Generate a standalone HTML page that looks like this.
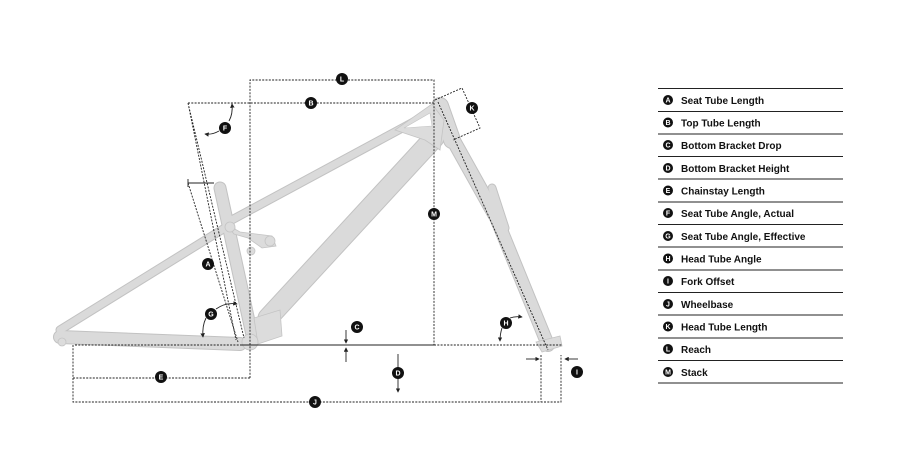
<!DOCTYPE html>
<html><head><meta charset="utf-8"><style>
html,body{margin:0;padding:0;background:#fff;width:916px;height:454px;overflow:hidden}
svg{display:block}
text{font-family:"Liberation Sans",sans-serif}
.lt{font-size:10px;font-weight:bold;fill:#111}
.cl{font-size:7px;font-weight:bold;fill:#fff;text-anchor:middle}
.d{stroke:#222;stroke-width:0.9;stroke-dasharray:2 1.3;fill:none}
.s{stroke:#222;stroke-width:0.9;fill:none}
.f{fill:#dcdcdc;stroke:#c4c4c4;stroke-width:0.8}
.t{stroke:#dadada;stroke-linecap:round;fill:none}
.o{stroke:#c2c2c2;stroke-linecap:round;fill:none}
</style></head><body>
<svg width="916" height="454" viewBox="0 0 916 454">
<defs>
<marker id="a" viewBox="0 0 6 6" refX="5" refY="3" markerWidth="5" markerHeight="5" orient="auto"><path d="M0,0L6,3L0,6z" fill="#222"/></marker>
</defs>
<!-- frame: outlines then fills -->
<g class="o">
<line x1="60" y1="330" x2="228" y2="226" stroke-width="9"/>
<line x1="60" y1="337" x2="240" y2="344" stroke-width="14"/>
<line x1="228" y1="222" x2="432" y2="112" stroke-width="9"/>
<line x1="220" y1="188" x2="252" y2="335" stroke-width="13"/>
<line x1="434" y1="138" x2="268" y2="318" stroke-width="21"/>
<line x1="440" y1="106" x2="452" y2="140" stroke-width="18"/>
<line x1="452" y1="138" x2="495" y2="215" stroke-width="15"/>
<line x1="495" y1="215" x2="548" y2="345" stroke-width="14"/>
<line x1="492" y1="188" x2="505" y2="228" stroke-width="9"/>
</g>
<g class="t">
<line x1="60" y1="330" x2="228" y2="226" stroke-width="7"/>
<line x1="60" y1="337" x2="240" y2="344" stroke-width="12"/>
<line x1="228" y1="222" x2="432" y2="112" stroke-width="7"/>
<line x1="220" y1="188" x2="252" y2="335" stroke-width="11"/>
<line x1="434" y1="138" x2="268" y2="318" stroke-width="19"/>
<line x1="440" y1="106" x2="452" y2="140" stroke-width="16"/>
<line x1="452" y1="138" x2="495" y2="215" stroke-width="13"/>
<line x1="495" y1="215" x2="548" y2="345" stroke-width="12"/>
<line x1="492" y1="188" x2="505" y2="228" stroke-width="7"/>
</g>
<path class="f" d="M395,130 L432,104 L444,120 L440,150 L425,140 Z"/>
<path d="M404,128 L430,113 L432,126 Z" fill="#fff" stroke="#c4c4c4" stroke-width="0.6"/>
<path class="f" d="M254,318 L280,310 L282,336 L258,344 Z"/>
<path class="f" d="M226,224 L240,232 L272,236 L276,246 L262,248 L248,238 L234,234 Z"/>
<circle cx="230" cy="227" r="5" class="f"/><circle cx="270" cy="241" r="5" class="f"/><circle cx="251" cy="251" r="4" class="f"/>
<circle cx="250" cy="342" r="8" class="f"/>
<circle cx="62" cy="342" r="4" class="f"/>
<path class="f" d="M536,342 L560,336 L562,346 L542,352 Z"/>
<!-- dimension lines -->
<path class="d" d="M250,378 V80 H434 V345"/>
<path class="d" d="M188,103 H434"/>
<path class="d" d="M188,103 L244,338 M188,103 L236,340"/>
<path class="s" d="M188,183 H214 M188,179 V187"/>
<path class="d" d="M188,183 L238,342"/>
<path class="d" d="M438,102 L548,350"/>
<path class="s" d="M240,345 H434"/>
<path class="d" d="M75,345 H240 M434,345 H562"/>
<path class="d" d="M73,345 V378 H250"/>
<path class="d" d="M73,378 V402 H561 V355"/>
<path class="d" d="M541,355 V402"/>
<path class="d" d="M435,100 L462,88 L480,128 L453,140"/>
<path class="s" d="M346,330 V343" marker-end="url(#a)"/>
<path class="s" d="M346,362 V348" marker-end="url(#a)"/>
<path class="s" d="M398,354 V392" marker-end="url(#a)"/>
<path class="s" d="M526,359 H539" marker-end="url(#a)"/>
<path class="s" d="M578,359 H565" marker-end="url(#a)"/>
<path class="s" d="M219,131 Q212,135 205,134" marker-end="url(#a)"/>
<path class="s" d="M229,121 Q233,114 232,104" marker-end="url(#a)"/>
<path class="s" d="M216,309 Q226,302 237,304" marker-end="url(#a)"/>
<path class="s" d="M206,318 Q202,326 203,337" marker-end="url(#a)"/>
<path class="s" d="M510,318 Q515,316 522,317" marker-end="url(#a)"/>
<path class="s" d="M502,328 Q500,334 500,341" marker-end="url(#a)"/>
<g>
<circle cx="342" cy="79" r="6" fill="#111"/><text class="cl" x="342" y="81.5">L</text>
<circle cx="311" cy="103" r="6" fill="#111"/><text class="cl" x="311" y="105.5">B</text>
<circle cx="472" cy="108" r="6" fill="#111"/><text class="cl" x="472" y="110.5">K</text>
<circle cx="225" cy="128" r="6" fill="#111"/><text class="cl" x="225" y="130.5">F</text>
<circle cx="434" cy="214" r="6" fill="#111"/><text class="cl" x="434" y="216.5">M</text>
<circle cx="208" cy="264" r="6" fill="#111"/><text class="cl" x="208" y="266.5">A</text>
<circle cx="211" cy="314" r="6" fill="#111"/><text class="cl" x="211" y="316.5">G</text>
<circle cx="357" cy="327" r="6" fill="#111"/><text class="cl" x="357" y="329.5">C</text>
<circle cx="506" cy="323" r="6" fill="#111"/><text class="cl" x="506" y="325.5">H</text>
<circle cx="398" cy="373" r="6" fill="#111"/><text class="cl" x="398" y="375.5">D</text>
<circle cx="577" cy="372" r="6" fill="#111"/><text class="cl" x="577" y="374.5">I</text>
<circle cx="161" cy="377" r="6" fill="#111"/><text class="cl" x="161" y="379.5">E</text>
<circle cx="315" cy="402" r="6" fill="#111"/><text class="cl" x="315" y="404.5">J</text>
</g>
<g stroke="#222" stroke-width="1">
<line x1="658" y1="88.5" x2="843" y2="88.5"/><line x1="658" y1="111.5" x2="843" y2="111.5"/>
<line x1="658" y1="134" x2="843" y2="134"/><line x1="658" y1="156.5" x2="843" y2="156.5"/>
<line x1="658" y1="179" x2="843" y2="179"/><line x1="658" y1="202" x2="843" y2="202"/>
<line x1="658" y1="224.5" x2="843" y2="224.5"/><line x1="658" y1="247" x2="843" y2="247"/>
<line x1="658" y1="270" x2="843" y2="270"/><line x1="658" y1="292.5" x2="843" y2="292.5"/>
<line x1="658" y1="315" x2="843" y2="315"/><line x1="658" y1="338" x2="843" y2="338"/>
<line x1="658" y1="360.5" x2="843" y2="360.5"/><line x1="658" y1="383" x2="843" y2="383"/>
</g>
<g>
<circle cx="668" cy="100" r="5" fill="#111"/><text class="cl" x="668" y="102.5">A</text><text class="lt" x="681" y="104">Seat Tube Length</text>
<circle cx="668" cy="122.5" r="5" fill="#111"/><text class="cl" x="668" y="125">B</text><text class="lt" x="681" y="126.5">Top Tube Length</text>
<circle cx="668" cy="145" r="5" fill="#111"/><text class="cl" x="668" y="147.5">C</text><text class="lt" x="681" y="149">Bottom Bracket Drop</text>
<circle cx="668" cy="168" r="5" fill="#111"/><text class="cl" x="668" y="170.5">D</text><text class="lt" x="681" y="172">Bottom Bracket Height</text>
<circle cx="668" cy="190.5" r="5" fill="#111"/><text class="cl" x="668" y="193">E</text><text class="lt" x="681" y="194.5">Chainstay Length</text>
<circle cx="668" cy="213" r="5" fill="#111"/><text class="cl" x="668" y="215.5">F</text><text class="lt" x="681" y="217">Seat Tube Angle, Actual</text>
<circle cx="668" cy="236" r="5" fill="#111"/><text class="cl" x="668" y="238.5">G</text><text class="lt" x="681" y="240">Seat Tube Angle, Effective</text>
<circle cx="668" cy="258.5" r="5" fill="#111"/><text class="cl" x="668" y="261">H</text><text class="lt" x="681" y="262.5">Head Tube Angle</text>
<circle cx="668" cy="281" r="5" fill="#111"/><text class="cl" x="668" y="283.5">I</text><text class="lt" x="681" y="285">Fork Offset</text>
<circle cx="668" cy="304" r="5" fill="#111"/><text class="cl" x="668" y="306.5">J</text><text class="lt" x="681" y="308">Wheelbase</text>
<circle cx="668" cy="326.5" r="5" fill="#111"/><text class="cl" x="668" y="329">K</text><text class="lt" x="681" y="330.5">Head Tube Length</text>
<circle cx="668" cy="349" r="5" fill="#111"/><text class="cl" x="668" y="351.5">L</text><text class="lt" x="681" y="353">Reach</text>
<circle cx="668" cy="372" r="5" fill="#111"/><text class="cl" x="668" y="374.5">M</text><text class="lt" x="681" y="376">Stack</text>
</g>
</svg>
</body></html>
